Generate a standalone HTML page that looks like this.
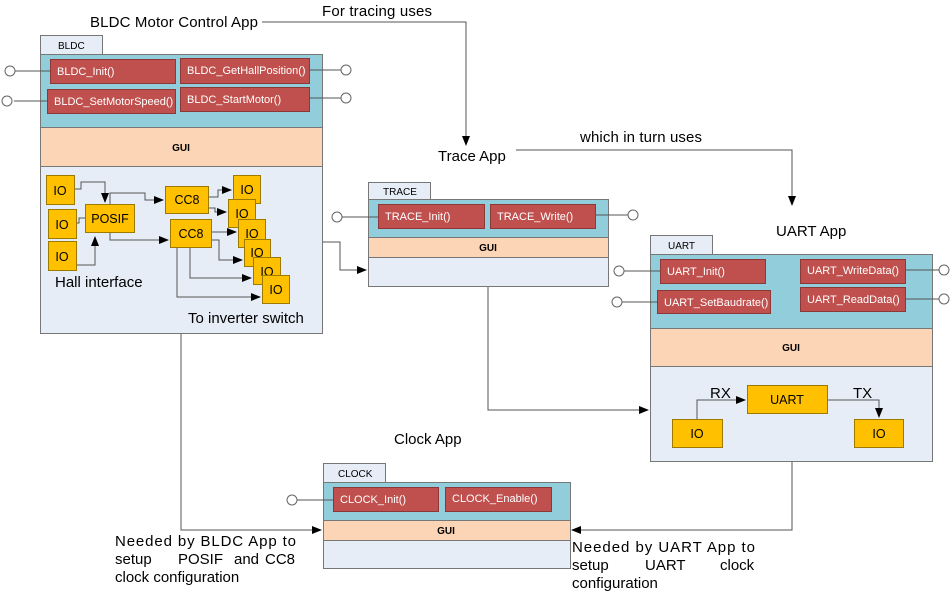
<!DOCTYPE html>
<html><head><meta charset="utf-8"><style>
body{margin:0;background:#fff;}
svg{display:block;font-family:"Liberation Sans",sans-serif;}
.r{fill:#c0504d;stroke:#8c3836;stroke-width:1}
.rt{fill:#fff;font-size:11px}
.y{fill:#ffc000;stroke:#9c7a00;stroke-width:1}
.yt{fill:#000;font-size:12.5px;text-anchor:middle}
.l{fill:none;stroke:#555;stroke-width:1}
.c{fill:#fff;stroke:#666;stroke-width:1}
.t{font-size:15px;fill:#000}
.g{font-size:10px;font-weight:bold;text-anchor:middle}
.tab{fill:#e6edf7;stroke:#777}
</style></head><body>
<svg width="952" height="592" viewBox="0 0 952 592">
<defs><marker id="a" markerWidth="10" markerHeight="8" refX="9" refY="4" orient="auto" markerUnits="userSpaceOnUse"><path d="M0,0L10,4L0,8z" fill="#000"/></marker></defs>

<path class="l" d="M262,22H466V145" marker-end="url(#a)"/>
<path class="l" d="M516,150H792V205" marker-end="url(#a)"/>
<path class="l" d="M322,242H340V270H366" marker-end="url(#a)"/>
<path class="l" d="M488,286V410H648" marker-end="url(#a)"/>
<path class="l" d="M181,333V530H321" marker-end="url(#a)"/>
<path class="l" d="M792,461V530H572" marker-end="url(#a)"/>

<text class="t" x="90" y="27" textLength="168">BLDC Motor Control App</text>
<text class="t" x="322" y="16" textLength="110">For tracing uses</text>
<text class="t" x="438" y="161">Trace App</text>
<text class="t" x="580" y="142" textLength="122">which in turn uses</text>
<text class="t" x="776" y="236">UART App</text>
<text class="t" x="394" y="444">Clock App</text>
<text class="t" x="115" y="546" textLength="181">Needed by BLDC App to</text>
<text class="t" x="115" y="564">setup</text><text class="t" x="178" y="564">POSIF</text><text class="t" x="234" y="564">and</text><text class="t" x="265" y="564">CC8</text>
<text class="t" x="115" y="582">clock configuration</text>
<text class="t" x="572" y="552" textLength="183">Needed by UART App to</text>
<text class="t" x="572" y="570">setup</text><text class="t" x="645" y="570">UART</text><text class="t" x="720" y="570">clock</text>
<text class="t" x="572" y="588">configuration</text>

<!-- BLDC -->
<rect class="tab" x="40.5" y="35.5" width="62" height="19"/>
<text x="58" y="49" font-size="10">BLDC</text>
<rect x="40.5" y="54.5" width="282" height="73" fill="#92cddc" stroke="#777"/>
<rect x="40.5" y="127.5" width="282" height="39" fill="#fbd5b5" stroke="#777"/>
<rect x="40.5" y="166.5" width="282" height="167" fill="#e6edf7" stroke="#777"/>
<text class="g" x="181" y="151">GUI</text>
<path class="l" d="M15,71H50M309,70H341M14,101H47M309,98H341"/>
<circle class="c" cx="10" cy="71" r="5"/><circle class="c" cx="346" cy="70" r="5"/>
<circle class="c" cx="7" cy="101" r="5"/><circle class="c" cx="346" cy="98" r="5"/>
<rect class="r" x="50.5" y="59.5" width="125" height="24"/><text class="rt" x="57" y="75">BLDC_Init()</text>
<rect class="r" x="180.5" y="58.5" width="129" height="25"/><text class="rt" x="187" y="74">BLDC_GetHallPosition()</text>
<rect class="r" x="47.5" y="89.5" width="128" height="24"/><text class="rt" x="54" y="105">BLDC_SetMotorSpeed()</text>
<rect class="r" x="180.5" y="87.5" width="129" height="24"/><text class="rt" x="187" y="103">BLDC_StartMotor()</text>
<path class="l" d="M74,189H81V182H105V202" marker-end="url(#a)"/>
<path class="l" d="M76,223H79V218H85"/>
<path class="l" d="M76,265H95V237" marker-end="url(#a)"/>
<path class="l" d="M110,204V193H145V200H163" marker-end="url(#a)"/>
<path class="l" d="M110,232V240H168" marker-end="url(#a)"/>
<path class="l" d="M208,197H218V190H231" marker-end="url(#a)"/>
<path class="l" d="M208,208H215V212H226" marker-end="url(#a)"/>
<path class="l" d="M211,232H236" marker-end="url(#a)"/>
<path class="l" d="M211,240H219V260H242" marker-end="url(#a)"/>
<path class="l" d="M190,247V278H251" marker-end="url(#a)"/>
<path class="l" d="M177,247V297H260" marker-end="url(#a)"/>
<rect class="y" x="46.5" y="175.5" width="28" height="29"/><text class="yt" x="60" y="195">IO</text>
<rect class="y" x="48.5" y="209.5" width="28" height="29"/><text class="yt" x="62" y="229">IO</text>
<rect class="y" x="48.5" y="241.5" width="28" height="29"/><text class="yt" x="62" y="261">IO</text>
<rect class="y" x="85.5" y="204.5" width="49" height="28"/><text class="yt" x="110" y="223">POSIF</text>
<rect class="y" x="165.5" y="186.5" width="43" height="27"/><text class="yt" x="187" y="204">CC8</text>
<rect class="y" x="170.5" y="219.5" width="41" height="28"/><text class="yt" x="191" y="238">CC8</text>
<rect class="y" x="233.5" y="175.5" width="27" height="28"/><text class="yt" x="247" y="194">IO</text>
<rect class="y" x="228.5" y="199.5" width="27" height="28"/><text class="yt" x="242" y="218">IO</text>
<rect class="y" x="238.5" y="219.5" width="27" height="28"/><text class="yt" x="252" y="238">IO</text>
<rect class="y" x="244.5" y="239.5" width="26" height="27"/><text class="yt" x="257" y="257">IO</text>
<rect class="y" x="253.5" y="257.5" width="27" height="27"/><text class="yt" x="267" y="276">IO</text>
<rect class="y" x="262.5" y="275.5" width="27" height="28"/><text class="yt" x="276" y="294">IO</text>
<text class="t" x="55" y="287">Hall interface</text>
<text class="t" x="188" y="323">To inverter switch</text>

<!-- TRACE -->
<rect class="tab" x="368.5" y="182.5" width="62" height="17"/>
<text x="383" y="195" font-size="10">TRACE</text>
<rect x="368.5" y="199.5" width="240" height="38" fill="#92cddc" stroke="#777"/>
<rect x="368.5" y="237.5" width="240" height="20" fill="#fbd5b5" stroke="#777"/>
<rect x="368.5" y="257.5" width="240" height="29" fill="#e6edf7" stroke="#777"/>
<text class="g" x="488" y="251">GUI</text>
<path class="l" d="M342,217H378M595,215H628"/>
<circle class="c" cx="337" cy="217" r="5"/><circle class="c" cx="633" cy="215" r="5"/>
<rect class="r" x="378.5" y="204.5" width="106" height="24"/><text class="rt" x="385" y="220">TRACE_Init()</text>
<rect class="r" x="490.5" y="204.5" width="105" height="24"/><text class="rt" x="497" y="220">TRACE_Write()</text>

<!-- UART -->
<rect class="tab" x="650.5" y="235.5" width="62" height="19"/>
<text x="668" y="249" font-size="10">UART</text>
<rect x="650.5" y="254.5" width="282" height="74" fill="#92cddc" stroke="#777"/>
<rect x="650.5" y="328.5" width="282" height="38" fill="#fbd5b5" stroke="#777"/>
<rect x="650.5" y="366.5" width="282" height="95" fill="#e6edf7" stroke="#777"/>
<text class="g" x="791" y="351">GUI</text>
<path class="l" d="M624,271H660M622,302H657M905,270H939M905,299H939"/>
<circle class="c" cx="619" cy="271" r="5"/><circle class="c" cx="617" cy="302" r="5"/>
<circle class="c" cx="944" cy="270" r="5"/><circle class="c" cx="944" cy="299" r="5"/>
<rect class="r" x="660.5" y="259.5" width="105" height="24"/><text class="rt" x="667" y="275">UART_Init()</text>
<rect class="r" x="657.5" y="290.5" width="113" height="23"/><text class="rt" x="664" y="306">UART_SetBaudrate()</text>
<rect class="r" x="800.5" y="259.5" width="105" height="24"/><text class="rt" x="807" y="274">UART_WriteData()</text>
<rect class="r" x="800.5" y="287.5" width="105" height="24"/><text class="rt" x="807" y="303">UART_ReadData()</text>
<path class="l" d="M697,419V400H745" marker-end="url(#a)"/>
<path class="l" d="M827,400H879V417" marker-end="url(#a)"/>
<rect class="y" x="747.5" y="385.5" width="80" height="28"/><text class="yt" x="787" y="404">UART</text>
<rect class="y" x="672.5" y="419.5" width="50" height="28"/><text class="yt" x="697" y="438">IO</text>
<rect class="y" x="854.5" y="419.5" width="49" height="28"/><text class="yt" x="879" y="438">IO</text>
<text class="t" x="710" y="398">RX</text>
<text class="t" x="853" y="398">TX</text>

<!-- CLOCK -->
<rect class="tab" x="323.5" y="463.5" width="62" height="19"/>
<text x="338" y="477" font-size="10">CLOCK</text>
<rect x="323.5" y="482.5" width="247" height="38" fill="#92cddc" stroke="#777"/>
<rect x="323.5" y="520.5" width="247" height="20" fill="#fbd5b5" stroke="#777"/>
<rect x="323.5" y="540.5" width="247" height="28" fill="#e6edf7" stroke="#777"/>
<text class="g" x="446" y="534">GUI</text>
<path class="l" d="M297,500H333"/>
<circle class="c" cx="292" cy="500" r="5"/>
<rect class="r" x="333.5" y="487.5" width="105" height="24"/><text class="rt" x="340" y="503">CLOCK_Init()</text>
<rect class="r" x="445.5" y="487.5" width="106" height="24"/><text class="rt" x="452" y="502">CLOCK_Enable()</text>
</svg>
</body></html>
